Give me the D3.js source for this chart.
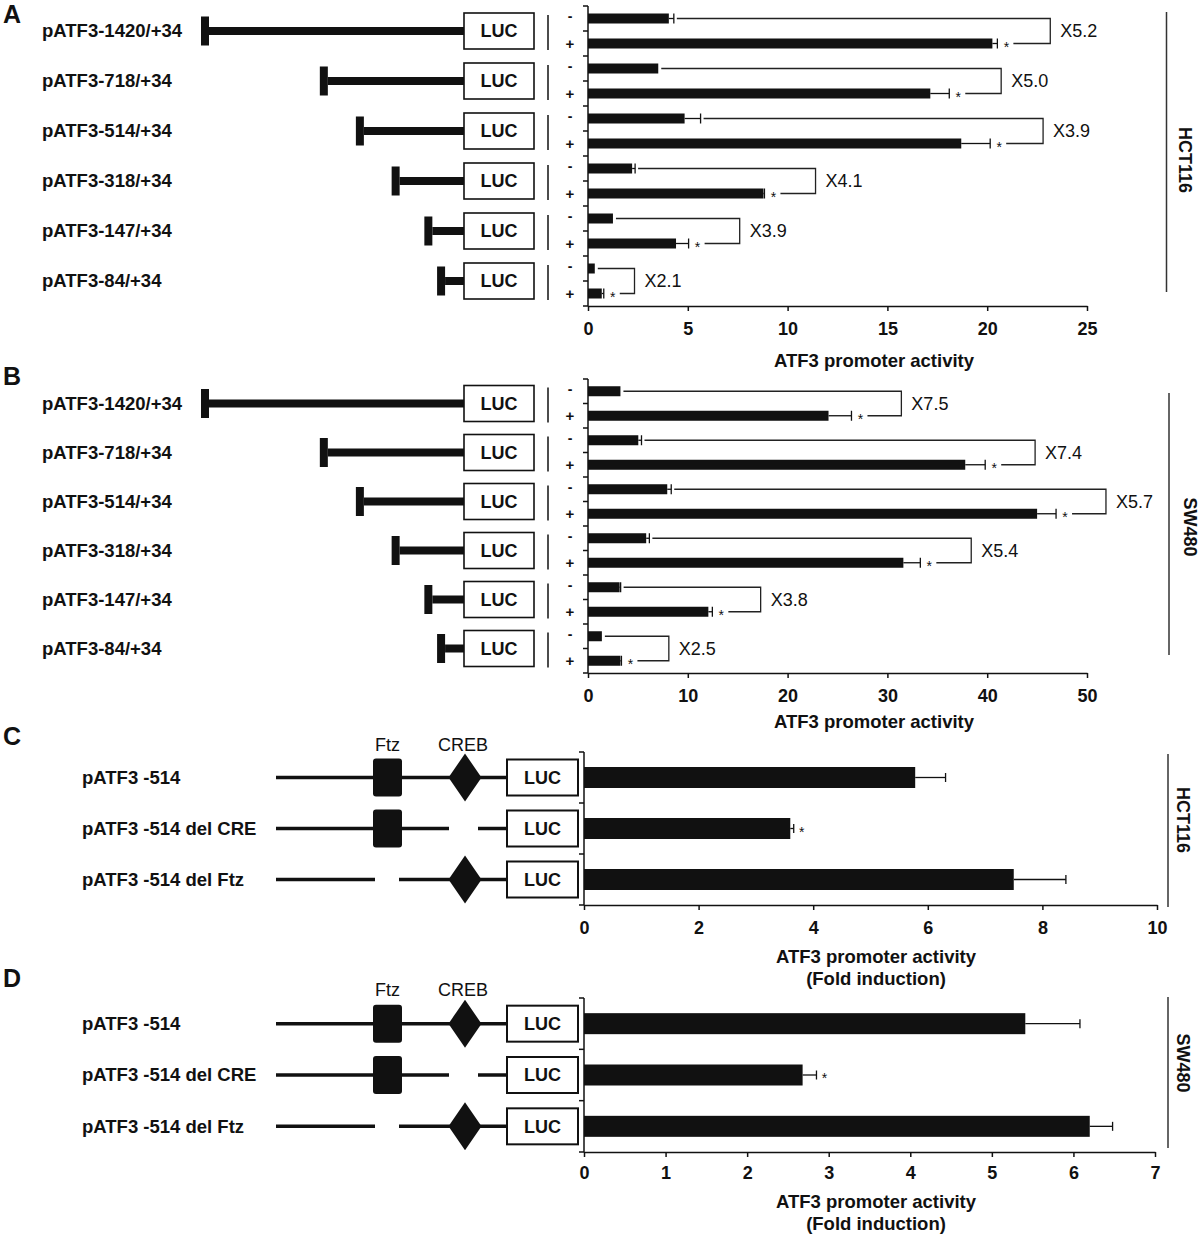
<!DOCTYPE html>
<html><head><meta charset="utf-8">
<script src="https://cdn.jsdelivr.net/npm/d3@7"></script>
<style>body{margin:0;background:#fff} text{font-family:"Liberation Sans",Arial,sans-serif;fill:#111}</style>
</head><body><svg id="chart" width="1200" height="1237"></svg>
<script>
// ---------- data ----------
const constructs = ["pATF3-1420/+34","pATF3-718/+34","pATF3-514/+34","pATF3-318/+34","pATF3-147/+34","pATF3-84/+34"];
const startBp = [1420, 718, 514, 318, 147, 84];
const treatments = ["-", "+"];

const hctMinus    = [4.05, 3.52, 4.84, 2.21, 1.25, 0.34];
const hctMinusErr = [0.25, 0.0, 0.80, 0.15, 0.0, 0.0];
const hctPlus     = [20.26, 17.15, 18.70, 8.79, 4.41, 0.69];
const hctPlusErr  = [0.25, 0.95, 1.45, 0.05, 0.63, 0.10];
const hctBracket  = [23.16, 20.7, 22.8, 11.4, 7.6, 2.33];
const hctFold     = ["X5.2","X5.0","X3.9","X4.1","X3.9","X2.1"];
const hctTicks    = [0, 5, 10, 15, 20, 25];

const swMinus     = [3.25, 5.04, 7.94, 5.83, 3.17, 1.39];
const swMinusErr  = [0.0, 0.32, 0.40, 0.32, 0.10, 0.0];
const swPlus      = [24.1, 37.8, 45.0, 31.6, 12.06, 3.25];
const swPlusErr   = [2.3, 2.0, 1.9, 1.7, 0.40, 0.10];
const swBracket   = [31.4, 44.8, 51.9, 38.4, 17.3, 8.1];
const swFold      = ["X7.5","X7.4","X5.7","X5.4","X3.8","X2.5"];
const swTicks     = [0, 10, 20, 30, 40, 50];

const mutNames    = ["pATF3 -514", "pATF3 -514 del CRE", "pATF3 -514 del Ftz"];
const mutHasFtz   = [true, true, false];
const mutHasCre   = [true, false, true];
const mutSig      = [false, true, false];
const hctMut      = [5.78, 3.60, 7.50];
const hctMutErr   = [0.53, 0.06, 0.91];
const hctMutTicks = [0, 2, 4, 6, 8, 10];
const swMut       = [5.41, 2.68, 6.20];
const swMutErr    = [0.67, 0.17, 0.28];
const swMutTicks  = [0, 1, 2, 3, 4, 5, 6, 7];

const axisTitle = "ATF3 promoter activity";
const axisTitle2 = "(Fold induction)";

// ---------- drawing ----------
const svg = d3.select("#chart");
svg.append("rect").attr("width",1200).attr("height",1237).attr("fill","#fff");
const INK = "#111";

function letter(t, x, y){
  svg.append("text").attr("x",x).attr("y",y).attr("font-size",25).attr("font-weight","bold").text(t);
}
function sideLabel(t, lx, y0, y1, tx, ty){
  svg.append("line").attr("x1",lx).attr("x2",lx).attr("y1",y0).attr("y2",y1).attr("stroke","#333").attr("stroke-width",1.5);
  svg.append("text").attr("transform",`translate(${tx},${ty}) rotate(90)`).attr("text-anchor","middle")
    .attr("dy","0.35em").attr("font-size",18).attr("font-weight","bold").text(t);
}
function bottomAxis(g, x, yPos, ticks, labY){
  const ax = g.append("g").attr("transform",`translate(0,${yPos})`)
    .call(d3.axisBottom(x).tickValues(ticks).tickSize(5).tickSizeOuter(0).tickFormat(d3.format("d")));
  ax.select(".domain").attr("stroke",INK).attr("stroke-width",1.5);
  ax.selectAll(".tick line").attr("stroke",INK).attr("stroke-width",1.5);
  ax.selectAll(".tick text").attr("y",labY).attr("font-size",18).attr("font-weight","bold")
    .attr("font-family",'"Liberation Sans",Arial,sans-serif').attr("fill",INK);
}
function leftAxis(g, y, x0, n){
  const r = y.range();
  g.append("line").attr("x1",x0).attr("x2",x0).attr("y1",r[0]).attr("y2",r[1]).attr("stroke",INK).attr("stroke-width",1.5);
  for(let k=0;k<=n;k++){
    const yy = r[0] + k*y.step();
    g.append("line").attr("x1",x0-5).attr("x2",x0).attr("y1",yy).attr("y2",yy).attr("stroke",INK).attr("stroke-width",1.5);
  }
}
function errBar(g, x1, x2, cy, half){
  g.append("line").attr("x1",x1).attr("x2",x2).attr("y1",cy).attr("y2",cy).attr("stroke",INK).attr("stroke-width",1.3);
  g.append("line").attr("x1",x2).attr("x2",x2).attr("y1",cy-half).attr("y2",cy+half).attr("stroke",INK).attr("stroke-width",1.3);
}

function deletionPanel(cfg){
  const g = svg.append("g");
  const x = d3.scaleLinear().domain([0, cfg.xMax]).range([588, 1087]);
  const keys = d3.range(constructs.length*2);
  const y = d3.scaleBand().domain(keys).range(cfg.yRange).padding(0);
  const bh = 10;
  const lucX = 464, lucW = 70;
  const bpScale = d3.scalePow().exponent(0.92).domain([0,1420]).range([0,255]);

  constructs.forEach((name,i)=>{
    const cm = y(2*i) + y.step()/2, cp = y(2*i+1) + y.step()/2;
    const cy = (cm+cp)/2;
    // left schematic
    g.append("text").attr("x",42).attr("y",cy).attr("dy","0.35em").attr("font-size",18.5).attr("font-weight","bold").text(name);
    const lineStart = lucX - bpScale(startBp[i]);
    g.append("rect").attr("x",lineStart).attr("y",cy-4).attr("width",lucX-lineStart).attr("height",8).attr("fill",INK);
    g.append("rect").attr("x",lineStart-8).attr("y",cy-14.5).attr("width",8).attr("height",29).attr("fill",INK);
    g.append("rect").attr("x",lucX).attr("y",cy-18).attr("width",lucW).attr("height",36).attr("fill","#fff").attr("stroke",INK).attr("stroke-width",1.6);
    g.append("text").attr("x",lucX+lucW/2).attr("y",cy).attr("dy","0.36em").attr("text-anchor","middle").attr("font-size",18).attr("font-weight","bold").text("LUC");
    g.append("line").attr("x1",548).attr("x2",548).attr("y1",cy-16).attr("y2",cy+19).attr("stroke",INK).attr("stroke-width",1.5);
    g.append("text").attr("x",570).attr("y",cm).attr("dy","0.2em").attr("text-anchor","middle").attr("font-size",14).attr("font-weight","bold").text(treatments[0]);
    g.append("text").attr("x",570).attr("y",cp).attr("dy","0.38em").attr("text-anchor","middle").attr("font-size",15).attr("font-weight","bold").text(treatments[1]);

    // bars
    const mv = cfg.minus[i], me = cfg.minusErr[i], pv = cfg.plus[i], pe = cfg.plusErr[i];
    g.append("rect").attr("x",x(0)).attr("y",cm-bh/2).attr("width",x(mv)-x(0)).attr("height",bh).attr("fill",INK);
    g.append("rect").attr("x",x(0)).attr("y",cp-bh/2).attr("width",x(pv)-x(0)).attr("height",bh).attr("fill",INK);
    if(me>0) errBar(g, x(mv), x(mv+me), cm, 5);
    if(pe>0) errBar(g, x(pv), x(pv+pe), cp, 5);
    const pEnd = x(pv+pe);
    g.append("text").attr("x",pEnd+9).attr("y",cp+8).attr("text-anchor","middle").attr("font-size",14).text("*");
    const bx = x(cfg.bracket[i]);
    g.append("path").attr("d",`M${x(mv+me)+3},${cm}H${bx}V${cp}H${pEnd+16}`)
      .attr("fill","none").attr("stroke","#222").attr("stroke-width",1.3);
    g.append("text").attr("x",bx+10).attr("y",cy).attr("dy","0.36em").attr("font-size",18).text(cfg.fold[i]);
  });
  leftAxis(g, y, x(0), keys.length);
  bottomAxis(g, x, cfg.yRange[1], cfg.ticks, 16);
  g.append("text").attr("x",874).attr("y",cfg.titleY).attr("dy","0.35em").attr("text-anchor","middle")
    .attr("font-size",18.5).attr("font-weight","bold").text(axisTitle);
}

function mutantPanel(cfg){
  const g = svg.append("g");
  const x = d3.scaleLinear().domain([0, cfg.xMax]).range([584, cfg.xEnd]);
  const y = d3.scaleBand().domain(d3.range(mutNames.length)).range(cfg.yRange).padding(0);
  const bh = 21;
  const lineX0 = 276, lucX = 507, lucW = 71;
  const ftzX = 373, ftzW = 29, creX = 465;
  g.append("text").attr("x",ftzX+ftzW/2).attr("y",cfg.motifY).attr("dy","0.35em").attr("text-anchor","middle").attr("font-size",18).text("Ftz");
  g.append("text").attr("x",creX-2).attr("y",cfg.motifY).attr("dy","0.35em").attr("text-anchor","middle").attr("font-size",18).text("CREB");
  mutNames.forEach((name,i)=>{
    const cy = y(i) + y.step()/2;
    g.append("text").attr("x",82).attr("y",cy).attr("dy","0.35em").attr("font-size",18.5).attr("font-weight","bold").text(name);
    // backbone segments
    const segs = [];
    if(!mutHasFtz[i]) segs.push([lineX0, ftzX+2],[ftzX+26, lucX]);
    else if(!mutHasCre[i]) segs.push([lineX0, creX-16],[creX+13, lucX]);
    else segs.push([lineX0, lucX]);
    segs.forEach(s=>g.append("line").attr("x1",s[0]).attr("x2",s[1]).attr("y1",cy).attr("y2",cy).attr("stroke",INK).attr("stroke-width",3.5));
    if(mutHasFtz[i]) g.append("rect").attr("x",ftzX).attr("y",cy-19).attr("width",ftzW).attr("height",38).attr("rx",3).attr("fill",INK);
    if(mutHasCre[i]) g.append("path").attr("d",`M${creX},${cy-24}L${creX+16.5},${cy}L${creX},${cy+24}L${creX-16.5},${cy}Z`).attr("fill",INK);
    g.append("rect").attr("x",lucX).attr("y",cy-18).attr("width",lucW).attr("height",36).attr("fill","#fff").attr("stroke",INK).attr("stroke-width",2);
    g.append("text").attr("x",lucX+lucW/2).attr("y",cy).attr("dy","0.36em").attr("text-anchor","middle").attr("font-size",18).attr("font-weight","bold").text("LUC");
    // bar
    const v = cfg.vals[i], e = cfg.errs[i];
    g.append("rect").attr("x",x(0)).attr("y",cy-bh/2).attr("width",x(v)-x(0)).attr("height",bh).attr("fill",INK);
    errBar(g, x(v), x(v+e), cy, 4.5);
    if(mutSig[i]) g.append("text").attr("x",x(v+e)+8).attr("y",cy+8).attr("text-anchor","middle").attr("font-size",14).text("*");
  });
  leftAxis(g, y, x(0), mutNames.length);
  bottomAxis(g, x, cfg.yRange[1], cfg.ticks, cfg.tickLabY);
  g.append("text").attr("x",876).attr("y",cfg.titleY).attr("dy","0.35em").attr("text-anchor","middle")
    .attr("font-size",18.5).attr("font-weight","bold").text(axisTitle);
  g.append("text").attr("x",876).attr("y",cfg.titleY+22).attr("dy","0.35em").attr("text-anchor","middle")
    .attr("font-size",18.5).attr("font-weight","bold").text(axisTitle2);
}

letter("A", 3, 23);
deletionPanel({xMax:25, yRange:[6,306], minus:hctMinus, minusErr:hctMinusErr, plus:hctPlus, plusErr:hctPlusErr,
  bracket:hctBracket, fold:hctFold, ticks:hctTicks, titleY:361});
sideLabel("HCT116", 1166.5, 12, 292, 1185, 160);

letter("B", 3, 385);
deletionPanel({xMax:50, yRange:[379,673], minus:swMinus, minusErr:swMinusErr, plus:swPlus, plusErr:swPlusErr,
  bracket:swBracket, fold:swFold, ticks:swTicks, titleY:722});
sideLabel("SW480", 1169, 393, 655, 1190, 527);

letter("C", 3, 745);
mutantPanel({xMax:10, xEnd:1157, yRange:[752,905], vals:hctMut, errs:hctMutErr, ticks:hctMutTicks, tickLabY:16, titleY:957, motifY:745});
sideLabel("HCT116", 1168, 754, 907, 1183, 820);

letter("D", 3, 987);
mutantPanel({xMax:7, xEnd:1155, yRange:[998,1152], vals:swMut, errs:swMutErr, ticks:swMutTicks, tickLabY:14, titleY:1202, motifY:990});
sideLabel("SW480", 1168, 997, 1148, 1183, 1063);
</script></body></html>
